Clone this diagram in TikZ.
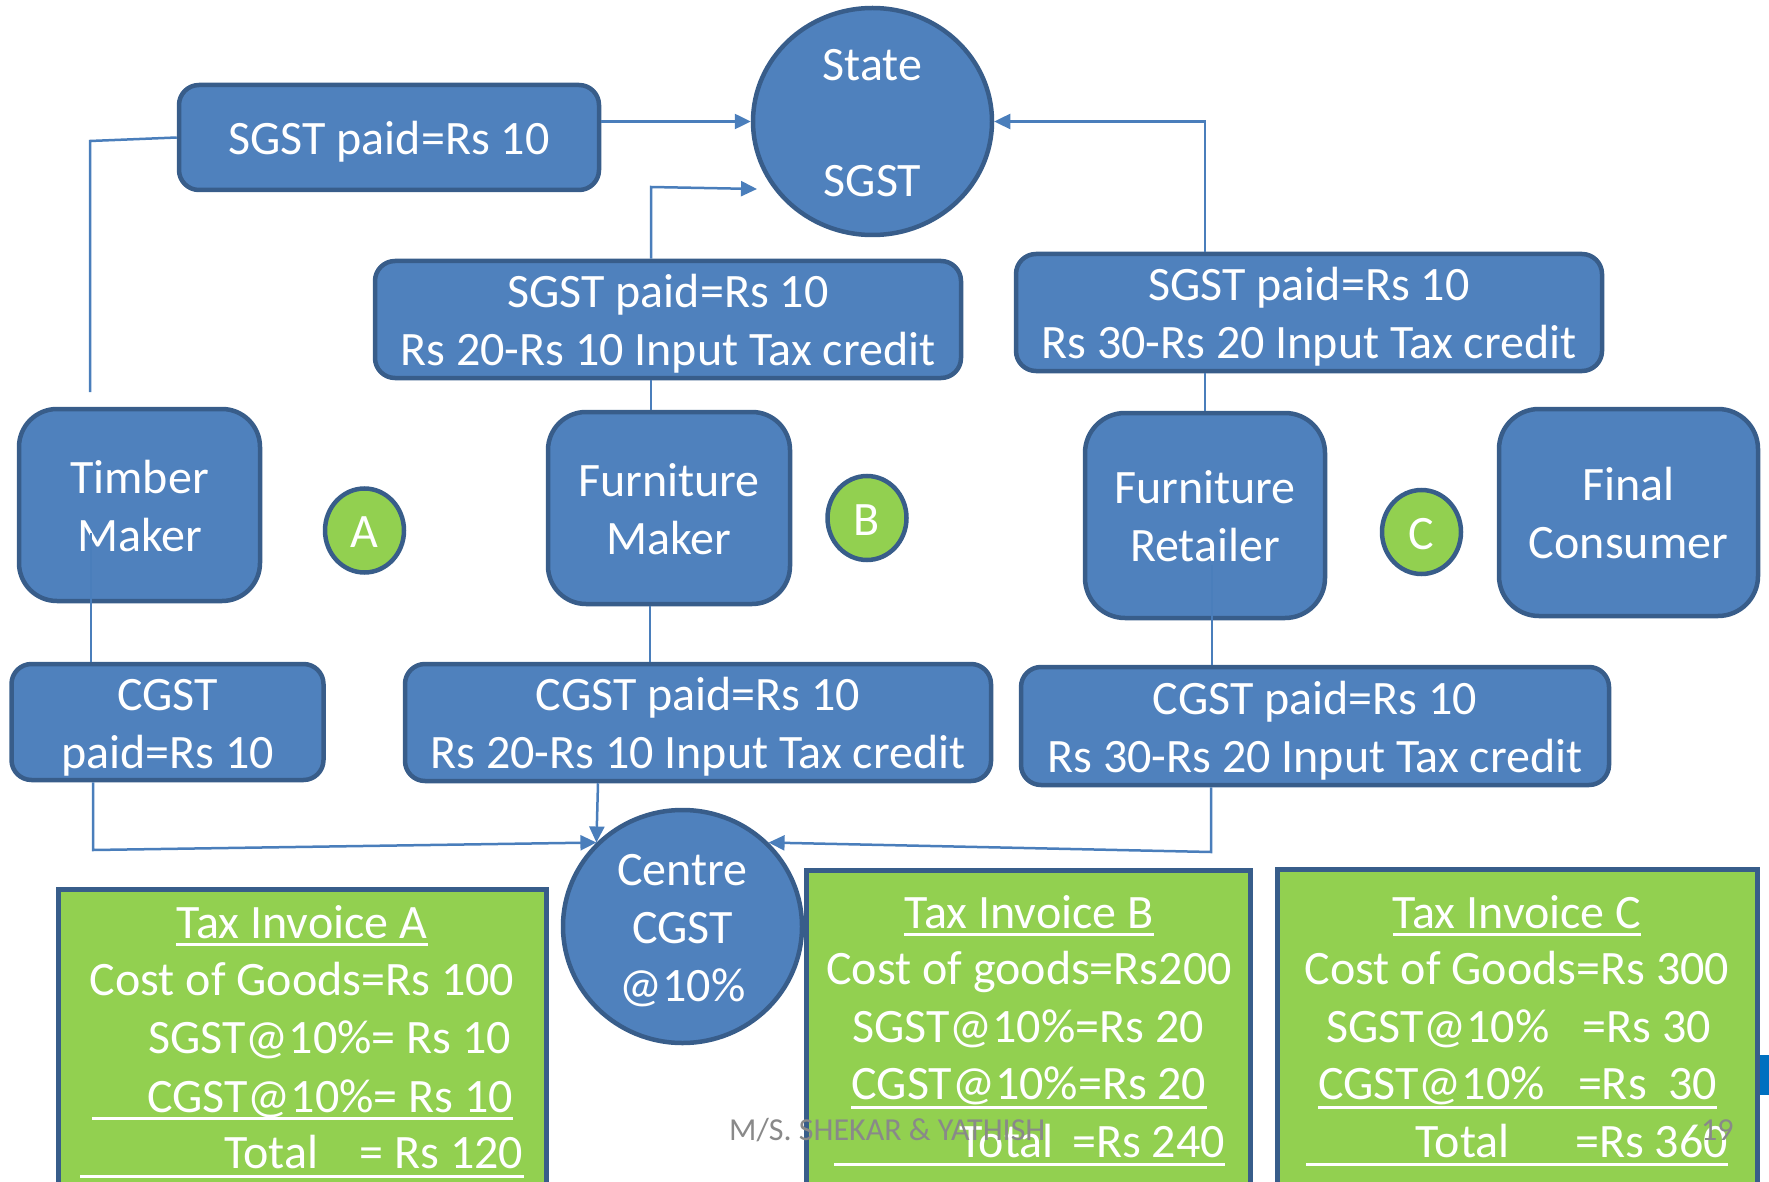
\documentclass[tikz,border=0pt]{standalone}
\usepackage{fontspec}
\setmainfont{Carlito}
\usetikzlibrary{shapes.geometric,arrows.meta}
\definecolor{boxc}{HTML}{4F81BD}
\definecolor{bordc}{HTML}{385D8A}
\definecolor{linkc}{HTML}{4A7EBB}
\definecolor{leafc}{HTML}{92D050}
\definecolor{markc}{HTML}{898989}
\definecolor{barc}{HTML}{0070C0}
\newcommand\bigtxt{\fontsize{48pt}{58pt}\selectfont}
\newcommand\smalltxt{\fontsize{32pt}{38pt}\selectfont}
% uniform line strut so that every box centres its text the same way
\newcommand\ls{\rule[-12pt]{0pt}{58pt}}
\begin{document}
\begin{tikzpicture}[x=1pt,y=-1pt,
  bluebox/.style={draw=bordc, fill=boxc, line width=4.5pt, rounded corners=#1,
    text=white, align=center, inner sep=0pt, font=\bigtxt},
  bluebox/.default=20pt,
  oval/.style={ellipse, draw=bordc, fill=boxc, line width=4.5pt, text=white,
    align=center, inner sep=-40pt, font=\bigtxt},
  badge/.style={ellipse, draw=bordc, fill=leafc, line width=4.5pt, text=white,
    inner sep=-10pt, font=\bigtxt, minimum width=79pt, minimum height=84pt},
  invoice/.style={draw=bordc, fill=leafc, line width=5pt, anchor=north},
  invtext/.style={text=white, font=\bigtxt, inner sep=0pt},
  link/.style={draw=linkc, line width=2.5pt},
  arrowed/.style={-{Triangle[length=16pt,width=15pt]}},
  ulrule/.style={draw=white, line width=3pt},
]
\useasboundingbox (0,0) rectangle (1769,1182);
\clip (0,0) rectangle (1769,1182);

% ---- state level ----
\node[oval, minimum width=239pt, minimum height=227pt] (state) at (872.5,121.5) {\ls State\\[58pt]\ls SGST};
\node[bluebox, minimum width=420pt, minimum height=105pt] (sgA) at (389,137.5) {\ls SGST paid=Rs 10};
\node[bluebox, minimum width=586pt, minimum height=117pt] (sgB) at (668,319.5)
  {\ls SGST paid=Rs 10\\\ls Rs 20-Rs 10 Input Tax credit};
\node[bluebox, minimum width=586pt, minimum height=117pt] (sgC) at (1309,312.5)
  {\ls SGST paid=Rs 10\\\ls Rs 30-Rs 20 Input Tax credit};

% ---- supply chain ----
\node[bluebox=38pt, minimum width=241pt, minimum height=192pt] (timber) at (139.5,505) {\ls Timber\\\ls Maker};
\node[badge] (cA) at (364.5,530.5) {\ls A};
\node[bluebox=38pt, minimum width=242pt, minimum height=192pt] (fmaker) at (669,508) {\ls Furniture\\\ls Maker};
\node[badge] (cB) at (867,518) {\ls B};
\node[bluebox=40pt, minimum width=240pt, minimum height=205pt] (retailer) at (1205,515.5) {\ls Furniture\\\ls Retailer};
\node[badge] (cC) at (1421.5,532) {\ls C};
\node[bluebox=40pt, minimum width=259pt, minimum height=207pt] (consumer) at (1628.5,512.5) {\ls Final\\\ls Consumer};

% ---- centre level ----
\node[bluebox, minimum width=312pt, minimum height=106pt] (cgA) at (167.5,722) {\ls CGST\\\ls paid=Rs 10};
\node[bluebox, minimum width=586pt, minimum height=117pt] (cgB) at (698,722.5)
  {\ls CGST paid=Rs 10\\\ls Rs 20-Rs 10 Input Tax credit};
\node[bluebox, minimum width=588pt, minimum height=118pt] (cgC) at (1315,726)
  {\ls CGST paid=Rs 10\\\ls Rs 30-Rs 20 Input Tax credit};

% ---- invoices ----
\fill[barc] (1755,1055) rectangle (1769,1095);
\node[invoice, minimum width=488pt, minimum height=420pt] (invA) at (302.5,887) {};
\node[invoice, minimum width=444pt, minimum height=420pt] (invB) at (1028.5,868) {};
\node[invoice, minimum width=480pt, minimum height=420pt] (invC) at (1517.5,867) {};
\node[oval, minimum width=239pt, minimum height=233pt] (centre) at (682.5,926.5) {\ls Centre\\\ls CGST\\\ls @10\%};

\node[invtext, anchor=base] (a1) at (302,938) {Tax Invoice A};
\node[invtext, anchor=base] (a2) at (302,995) {Cost of Goods=Rs 100};
\node[invtext, anchor=base east] (a3) at (511,1053) {SGST@10\%= Rs 10};
\node[invtext, anchor=base east] (a4) at (513,1112) {CGST@10\%= Rs 10};
\node[invtext, anchor=base west] (a5) at (224,1168) {\makebox[299pt]{Total\hfill= Rs 120}};
\draw[ulrule] ([yshift=-6pt]a1.base west) -- ([yshift=-6pt]a1.base east);
\draw[ulrule] (92,1118) -- (513,1118);
\draw[ulrule] (80,1176) -- (524,1176);

\node[invtext, anchor=base] (b1) at (1029,928) {Tax Invoice B};
\node[invtext, anchor=base] (b2) at (1029,984) {Cost of goods=Rs200};
\node[invtext, anchor=base] (b3) at (1028,1042) {SGST@10\%=Rs 20};
\node[invtext, anchor=base] (b4) at (1029,1099) {CGST@10\%=Rs 20};
\node[invtext, anchor=base east] (b5) at (1225,1157) {\makebox[265pt]{Total\hfill=Rs 240}};
\draw[ulrule] ([yshift=-6pt]b1.base west) -- ([yshift=-6pt]b1.base east);
\draw[ulrule] ([yshift=-8pt]b4.base west) -- ([yshift=-8pt]b4.base east);
\draw[ulrule] (834,1164) -- (1225,1164);

\node[invtext, anchor=base] (c1) at (1517,928) {Tax Invoice C};
\node[invtext, anchor=base] (c2) at (1517,984) {Cost of Goods=Rs 300};
\node[invtext, anchor=base west] (c3) at (1326,1042) {\makebox[385pt]{SGST@10\%\hfill=Rs 30}};
\node[invtext, anchor=base west] (c4) at (1318,1099) {\makebox[399pt]{CGST@10\%\hfill=Rs\ \ 30}};
\node[invtext, anchor=base east] (c5) at (1728,1157) {\makebox[312pt]{Total\hfill=Rs 360}};
\draw[ulrule] ([yshift=-6pt]c1.base west) -- ([yshift=-6pt]c1.base east);
\draw[ulrule] ([yshift=-8pt]c4.base west) -- ([yshift=-8pt]c4.base east);
\draw[ulrule] (1306,1164) -- (1728,1164);

\node[text=markc, font=\smalltxt, inner sep=0pt, anchor=base west] (mark) at (729,1140) {M/S. SHEKAR \& YATHISH};
\node[text=markc, font=\smalltxt, inner sep=0pt, anchor=base west] (page) at (1701,1140) {19};

% ---- connectors ----
\coordinate (p1) at (90,392);
\coordinate (p2) at (90,141);
\coordinate (q1) at (651,187);
\coordinate (q2) at (757,189);
\coordinate (t1) at (91,533);
\coordinate (r1) at (93,850);
\coordinate (s1) at (650,606);
\coordinate (u1) at (1212,565);
\coordinate (u2) at (1211,852);

\draw[link] (p1) -- (p2) -- (sgA.west);
\draw[link,arrowed] (sgA.east |- state.west) -- (state.west);
\draw[link,arrowed] (sgB.north -| q1) -- (q1) -- (q2);
\draw[link] (sgB.south -| q1) -- (fmaker.north -| q1);
\draw[link,arrowed] (retailer |- sgC.north) -- (retailer |- state.east) -- (state.east);
\draw[link] (retailer |- sgC.south) -- (retailer.north);

\draw[link] (t1) -- (t1 |- cgA.north);
\draw[link,arrowed] (cgA.south -| r1) -- (r1) -- (centre.north west);
\draw[link] (s1) -- (s1 |- cgB.north);
\draw[link,arrowed] ([xshift=-100pt]cgB.south) -- (centre.north west);
\draw[link] (u1) -- (u1 |- cgC.north);
\draw[link,arrowed] (cgC.south -| u2) -- (u2) -- (centre.north east);
\end{tikzpicture}
\end{document}
